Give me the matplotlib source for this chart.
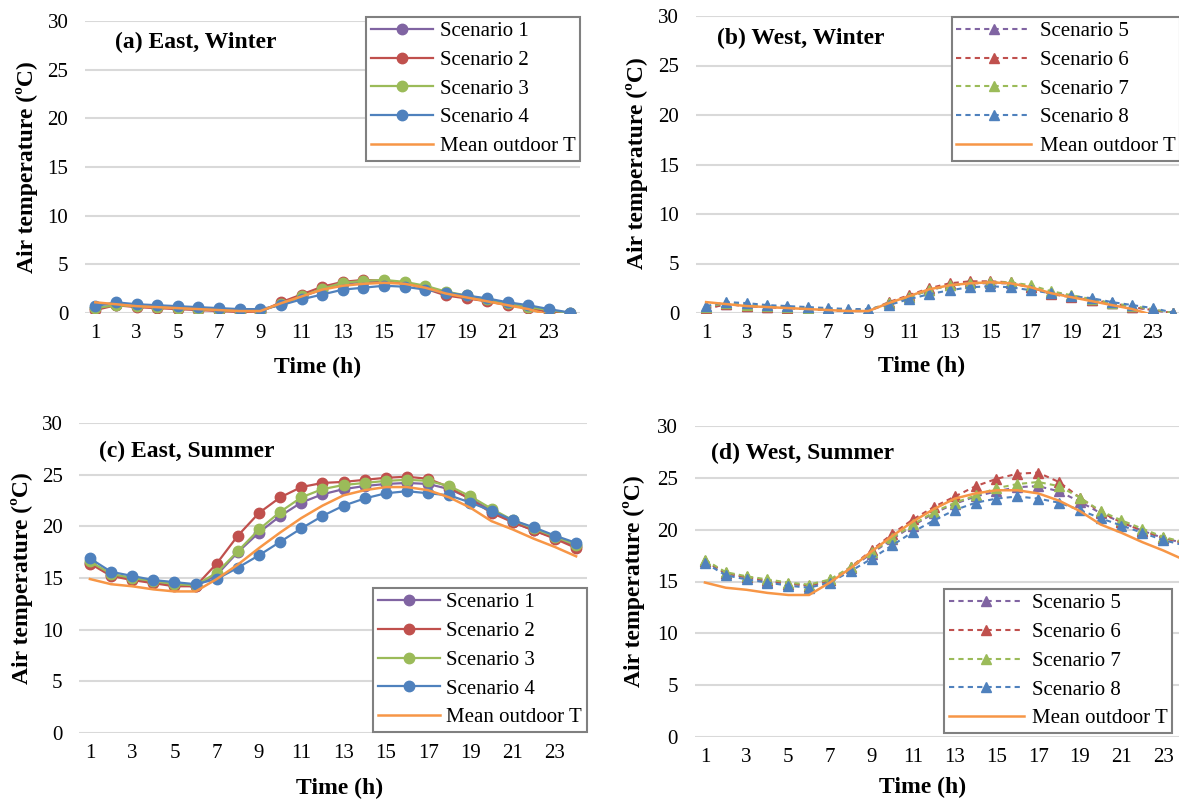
import matplotlib
matplotlib.use('Agg')
import matplotlib.pyplot as plt

plt.rcParams['font.family'] = ['Liberation Serif', 'DejaVu Serif']

# 时间 (h)
hours = list(range(1, 25))
xtick_labels = [str(h) for h in range(1, 24, 2)]

# 室外平均温度
outdoor_winter = [1.1, 0.9, 0.7, 0.6, 0.5, 0.4, 0.3, 0.2, 0.2, 1.0, 1.7, 2.4,
                  2.8, 3.0, 3.1, 3.0, 2.6, 2.0, 1.6, 1.2, 0.8, 0.4, -0.2, -0.3]
outdoor_summer = [14.9, 14.4, 14.2, 13.9, 13.7, 13.7, 14.9, 16.3, 17.9, 19.4, 20.8, 22.0,
                  23.0, 23.5, 23.8, 23.8, 23.5, 22.8, 21.8, 20.5, 19.7, 18.8, 18.0, 17.1]

# (a) East, Winter
s1_winter = [0.5, 0.8, 0.7, 0.6, 0.5, 0.4, 0.3, 0.2, 0.2, 0.9, 1.7, 2.4,
             3.0, 3.2, 3.2, 3.1, 2.7, 2.1, 1.7, 1.3, 0.9, 0.6, 0.2, 0.0]
s2_winter = [0.3, 0.8, 0.6, 0.5, 0.4, 0.3, 0.2, 0.1, 0.15, 1.1, 1.9, 2.7,
             3.2, 3.4, 3.3, 3.1, 2.5, 1.8, 1.5, 1.2, 0.8, 0.5, 0.1, -0.1]
s3_winter = [0.5, 0.8, 0.7, 0.6, 0.5, 0.4, 0.3, 0.2, 0.25, 0.9, 1.7, 2.5,
             3.1, 3.3, 3.4, 3.2, 2.8, 2.2, 1.8, 1.4, 1.0, 0.6, 0.3, 0.0]
s4_winter = [0.7, 1.1, 0.9, 0.8, 0.7, 0.6, 0.5, 0.4, 0.4, 0.8, 1.4, 1.9,
             2.4, 2.6, 2.8, 2.7, 2.4, 2.1, 1.8, 1.5, 1.1, 0.8, 0.4, 0.05]

# (b) West, Winter
s5_winter = [0.5, 0.9, 0.7, 0.6, 0.5, 0.4, 0.3, 0.2, 0.2, 1.0, 1.6, 2.3,
             2.8, 3.0, 3.0, 3.0, 2.6, 2.0, 1.7, 1.3, 1.0, 0.6, 0.3, 0.0]
s6_winter = [0.4, 0.9, 0.7, 0.6, 0.5, 0.4, 0.3, 0.2, 0.2, 1.1, 1.8, 2.5,
             3.0, 3.2, 3.2, 3.1, 2.6, 1.9, 1.6, 1.3, 1.0, 0.6, 0.3, 0.0]
s7_winter = [0.6, 1.0, 0.8, 0.7, 0.6, 0.5, 0.4, 0.3, 0.3, 1.0, 1.6, 2.3,
             2.8, 3.0, 3.1, 3.1, 2.8, 2.2, 1.8, 1.4, 1.0, 0.7, 0.4, 0.0]
s8_winter = [0.7, 1.1, 1.0, 0.8, 0.7, 0.6, 0.5, 0.4, 0.4, 0.8, 1.4, 1.9,
             2.3, 2.6, 2.7, 2.6, 2.3, 2.0, 1.7, 1.5, 1.1, 0.8, 0.5, 0.05]

# (c) East, Summer
s1_summer = [16.5, 15.3, 14.9, 14.6, 14.3, 14.2, 15.3, 17.5, 19.4, 21.0, 22.3, 23.1,
             23.6, 23.9, 24.1, 24.2, 24.1, 23.6, 22.7, 21.5, 20.4, 19.6, 18.9, 18.1]
s2_summer = [16.4, 15.2, 14.8, 14.5, 14.2, 14.2, 16.4, 19.1, 21.3, 22.8, 23.8, 24.2,
             24.3, 24.5, 24.7, 24.8, 24.6, 23.8, 22.6, 21.3, 20.4, 19.6, 18.8, 17.9]
s3_summer = [16.6, 15.4, 15.0, 14.7, 14.4, 14.3, 15.5, 17.6, 19.7, 21.4, 22.8, 23.6,
             24.0, 24.2, 24.4, 24.5, 24.4, 23.9, 22.9, 21.7, 20.6, 19.8, 19.0, 18.2]
s4_summer = [16.9, 15.6, 15.2, 14.8, 14.6, 14.4, 14.9, 16.0, 17.2, 18.5, 19.8, 21.0,
             22.0, 22.7, 23.2, 23.4, 23.2, 23.0, 22.3, 21.5, 20.6, 19.9, 19.1, 18.4]

# (d) West, Summer
s5_summer = [17.0, 15.8, 15.4, 15.0, 14.8, 14.6, 15.1, 16.3, 17.7, 19.1, 20.4, 21.6,
             22.5, 23.2, 23.7, 24.1, 24.2, 23.7, 22.7, 21.6, 20.7, 19.9, 19.2, 18.7]
s6_summer = [17.0, 15.8, 15.4, 15.1, 14.8, 14.6, 15.1, 16.4, 18.0, 19.6, 21.0, 22.2,
             23.2, 24.2, 24.9, 25.4, 25.5, 24.6, 23.1, 21.7, 20.7, 19.9, 19.2, 18.7]
s7_summer = [17.1, 15.9, 15.5, 15.2, 14.9, 14.7, 15.2, 16.4, 17.8, 19.2, 20.5, 21.7,
             22.6, 23.3, 24.0, 24.4, 24.6, 24.2, 23.1, 21.8, 20.9, 20.1, 19.3, 18.8]
s8_summer = [16.8, 15.6, 15.2, 14.9, 14.6, 14.4, 14.9, 16.0, 17.2, 18.5, 19.8, 20.9,
             21.9, 22.6, 23.0, 23.2, 23.0, 22.6, 21.9, 21.1, 20.4, 19.7, 19.0, 18.5]

colors = ['#8064A2', '#C0504D', '#9BBB59', '#4F81BD']
orange = '#F79646'

fig = plt.figure(figsize=(11.79, 8), dpi=100)

# 子图位置 [left, bottom, width, height]
panels = [
    dict(pos=[0.0721, 0.60875, 0.4198, 0.365], title='(a) East, Winter', tpos=(115, 42),
         ypos=(27, 167), xpos=(318, 367), series=[s1_winter, s2_winter, s3_winter, s4_winter],
         outdoor=outdoor_winter, names=['Scenario 1', 'Scenario 2', 'Scenario 3', 'Scenario 4'],
         dashed=False, leg=dict(loc='upper right', bbox_to_anchor=(1.0, 1.014))),
    dict(pos=[0.5903, 0.60875, 0.4131, 0.37125], title='(b) West, Winter', tpos=(717, 38),
         ypos=(637, 163), xpos=(922, 366), series=[s5_winter, s6_winter, s7_winter, s8_winter],
         outdoor=outdoor_winter, names=['Scenario 5', 'Scenario 6', 'Scenario 7', 'Scenario 8'],
         dashed=True, leg=dict(loc='upper left', bbox_to_anchor=(0.525, 0.997))),
    dict(pos=[0.0673, 0.08375, 0.4303, 0.3875], title='(c) East, Summer', tpos=(99, 451),
         ypos=(22, 578), xpos=(340, 788), series=[s1_summer, s2_summer, s3_summer, s4_summer],
         outdoor=outdoor_summer, names=['Scenario 1', 'Scenario 2', 'Scenario 3', 'Scenario 4'],
         dashed=False, leg=dict(loc='lower right', bbox_to_anchor=(1.0, 0.003))),
    dict(pos=[0.5891, 0.07875, 0.4239, 0.38875], title='(d) West, Summer', tpos=(711, 453),
         ypos=(634, 581), xpos=(923, 787), series=[s5_summer, s6_summer, s7_summer, s8_summer],
         outdoor=outdoor_summer, names=['Scenario 5', 'Scenario 6', 'Scenario 7', 'Scenario 8'],
         dashed=True, leg=dict(loc='lower right', bbox_to_anchor=(0.956, 0.013))),
]

W, H = 1179.0, 800.0

for p in panels:
    ax = fig.add_axes(p['pos'])
    for vals, c, name in zip(p['series'], colors, p['names']):
        if p['dashed']:
            ax.plot(hours, vals, color=c, lw=1.5, ls=(0, (2.5, 2)), marker='^', ms=7.5,
                    label=name)
        else:
            ax.plot(hours, vals, color=c, lw=1.6, marker='o', ms=7.5, label=name)
    ax.plot(hours, p['outdoor'], color=orange, lw=1.8, label='Mean outdoor T')

    ax.set_xlim(0.5, 24.5)
    ax.set_ylim(0, 30)
    ax.set_yticks(range(0, 31, 5))
    ax.set_xticks(range(1, 24, 2))
    ax.set_xticklabels(xtick_labels)
    ax.tick_params(length=0, labelsize=15)
    ax.tick_params(axis='y', pad=12)
    ax.tick_params(axis='x', pad=8)
    ax.grid(axis='y', color='#D9D9D9', lw=1.5)
    ax.set_axisbelow(True)
    for s in ax.spines.values():
        s.set_visible(False)

    leg = ax.legend(fontsize=15, frameon=True, fancybox=False, framealpha=1,
                    edgecolor='#808080', borderaxespad=0, borderpad=0.22,
                    labelspacing=0.44, handlelength=3.6 if p['dashed'] else 3.0,
                    handletextpad=0.4 if p['dashed'] else 0.3, numpoints=1, **p['leg'])
    leg.get_frame().set_linewidth(1.5)

    fig.text(p['tpos'][0] / W, 1 - p['tpos'][1] / H, p['title'], fontsize=17,
             fontweight='bold', ha='left', va='center')
    fig.text(p['ypos'][0] / W, 1 - p['ypos'][1] / H, 'Air temperature (ºC)', fontsize=17,
             fontweight='bold', rotation=90, ha='center', va='center')
    fig.text(p['xpos'][0] / W, 1 - p['xpos'][1] / H, 'Time (h)', fontsize=17,
             fontweight='bold', ha='center', va='center')

fig.savefig('out.png', dpi=100)
